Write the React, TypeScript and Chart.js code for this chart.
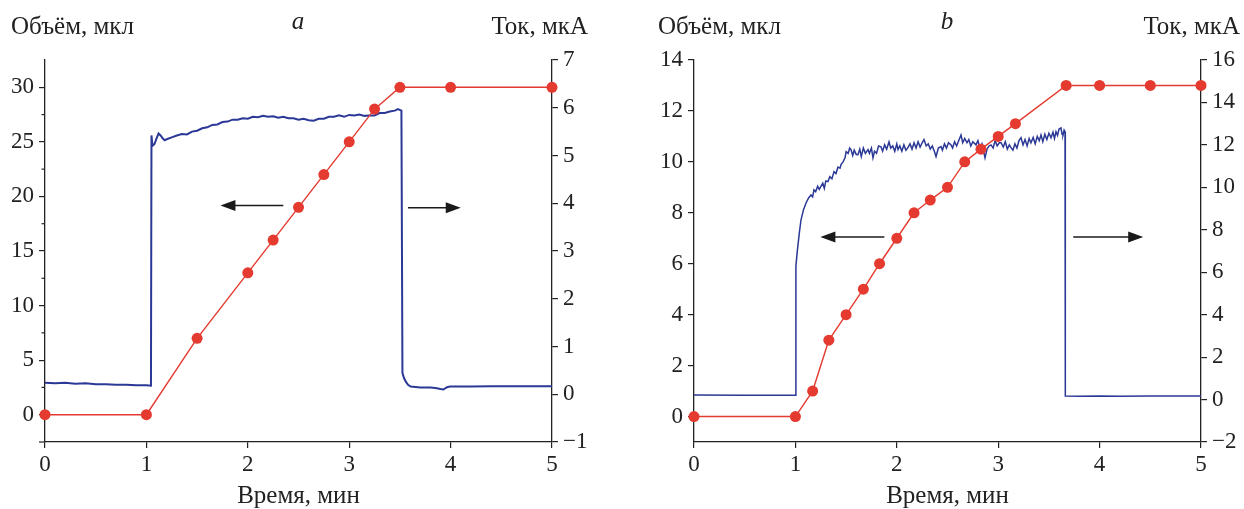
import React, { useEffect, useRef } from "react";
import { Chart, registerables } from "chart.js";
Chart.register(...registerables);

// ---------- data ----------
const timeTicks = [0, 1, 2, 3, 4, 5];

// panel a
const aVolT = [0, 1, 1.5, 2, 2.25, 2.5, 2.75, 3, 3.25, 3.5, 4, 5];
const aVolV = [0, 0, 7, 13, 16, 19, 22, 25, 28, 30, 30, 30];
const aCurT = [
  0, 0.1, 0.2, 0.3, 0.4, 0.5, 0.6, 0.7, 0.8, 0.9, 1.0, 1.045,
  1.05, 1.06, 1.08, 1.1, 1.12, 1.14, 1.16, 1.18, 1.2, 1.25, 1.3, 1.35, 1.4, 1.45,
  1.5, 1.55, 1.6, 1.65, 1.7, 1.75, 1.8, 1.85, 1.9, 1.95, 2.0, 2.05, 2.1, 2.15,
  2.2, 2.25, 2.3, 2.35, 2.4, 2.45, 2.5, 2.55, 2.6, 2.65, 2.7, 2.75, 2.8, 2.85,
  2.9, 2.95, 3.0, 3.05, 3.1, 3.15, 3.2, 3.25, 3.3, 3.35, 3.4, 3.45, 3.48, 3.515,
  3.525, 3.54, 3.557, 3.58, 3.607, 3.7, 3.8, 3.85, 3.9, 3.93, 3.95, 3.97, 4.0, 4.2, 4.4, 4.6, 4.8, 5.0,
];
const aCurV = [
  0.24, 0.23, 0.24, 0.22, 0.23, 0.21, 0.21, 0.2, 0.2, 0.19, 0.19, 0.18,
  5.42, 5.2, 5.24, 5.36, 5.46, 5.42, 5.36, 5.32, 5.34, 5.38, 5.42, 5.45, 5.44, 5.5,
  5.52, 5.57, 5.59, 5.64, 5.65, 5.7, 5.71, 5.75, 5.75, 5.78, 5.77, 5.81, 5.8, 5.83,
  5.81, 5.82, 5.79, 5.81, 5.78, 5.78, 5.75, 5.77, 5.74, 5.73, 5.77, 5.77, 5.81, 5.81,
  5.84, 5.81, 5.85, 5.84, 5.86, 5.83, 5.84, 5.84, 5.89, 5.89, 5.92, 5.94, 5.97, 5.94,
  0.45, 0.34, 0.27, 0.2, 0.16, 0.14, 0.14, 0.13, 0.11, 0.1, 0.13, 0.15, 0.16, 0.16, 0.17, 0.17, 0.17, 0.17,
];
const aLeftTicks = [0, 5, 10, 15, 20, 25, 30];
const aLeftMinor = [-2.5, 2.5, 7.5, 12.5, 17.5, 22.5, 27.5];
const aRightTicks = [-1, 0, 1, 2, 3, 4, 5, 6, 7];

// panel b
const bVolT = [0, 1, 1.17, 1.33, 1.5, 1.67, 1.83, 2, 2.17, 2.33, 2.5, 2.67, 2.83, 3, 3.17, 3.67, 4, 4.5, 5];
const bVolV = [0, 0, 1, 3, 4, 5, 6, 7, 8, 8.5, 9, 10, 10.5, 11, 11.5, 13, 13, 13, 13];
const bCurT = [
  0, 0.5, 0.99, 1.0, 1.005, 1.02, 1.04, 1.055, 1.08, 1.105, 1.13, 1.154, 1.17, 1.183,
  1.2, 1.22, 1.235, 1.252, 1.27, 1.285, 1.3, 1.321, 1.34, 1.36, 1.381, 1.4, 1.42, 1.44,
  1.45, 1.47, 1.49, 1.5, 1.52, 1.535, 1.548, 1.565, 1.58, 1.6, 1.617, 1.635, 1.65, 1.67,
  1.69, 1.716, 1.73, 1.75, 1.765, 1.78, 1.8, 1.82, 1.844, 1.86, 1.88, 1.9, 1.923, 1.94,
  1.96, 1.98, 2.0, 2.012, 2.03, 2.05, 2.07, 2.09, 2.11, 2.13, 2.15, 2.17, 2.19, 2.21,
  2.23, 2.25, 2.268, 2.29, 2.31, 2.33, 2.35, 2.37, 2.387, 2.41, 2.436, 2.45, 2.47, 2.49,
  2.51, 2.535, 2.55, 2.57, 2.59, 2.61, 2.633, 2.65, 2.67, 2.692, 2.71, 2.73, 2.75, 2.781,
  2.8, 2.82, 2.84, 2.87, 2.89, 2.91, 2.929, 2.95, 2.97, 2.99, 3.01, 3.028, 3.05, 3.07,
  3.09, 3.11, 3.126, 3.145, 3.165, 3.185, 3.205, 3.225, 3.245, 3.265, 3.285, 3.305, 3.323,
  3.345, 3.365, 3.385, 3.405, 3.422, 3.44, 3.46, 3.48, 3.5, 3.521, 3.54, 3.555, 3.57,
  3.585, 3.6, 3.619, 3.63, 3.639, 3.65, 3.659, 3.662, 3.8, 4.0, 4.2, 4.5, 5.0,
];
const bCurV = [
  0.22, 0.2, 0.2, 0.2, 6.3, 7.05, 7.9, 8.46, 8.95, 9.26, 9.5, 9.64, 9.55, 9.88,
  9.8, 10.05, 9.9, 10.05, 10.2, 9.95, 10.3, 10.27, 10.5, 10.4, 10.74, 10.65, 10.95, 10.9,
  11.07, 11.2, 11.4, 11.68, 11.6, 11.85, 11.78, 11.5, 11.75, 11.55, 11.54, 11.8, 11.45, 11.85,
  11.6, 11.78, 11.6, 11.85, 11.39, 11.7, 11.6, 11.95, 11.91, 11.7, 12.0, 11.8, 12.14, 11.85,
  11.95, 11.7, 12.05, 11.78, 11.95, 11.7, 12.0, 11.75, 11.87, 12.05, 11.8, 12.1, 11.85, 12.15,
  11.9, 12.1, 12.25, 11.95, 12.05, 11.8, 11.95, 11.7, 11.45, 11.85, 11.92, 11.75, 12.05, 11.85,
  12.1, 12.0, 11.85, 12.15, 11.95, 12.2, 12.47, 12.1, 12.3, 12.1, 12.25, 11.95, 12.15, 12.0,
  12.2, 11.85, 12.05, 11.39, 11.8, 11.95, 12.0, 11.85, 12.2, 11.95, 12.1, 12.1, 11.9, 12.15,
  11.8, 12.0, 11.87, 11.75, 12.05, 11.85, 12.2, 12.34, 12.0, 12.25, 11.95, 12.3, 12.1,
  12.35, 12.05, 12.4, 12.2, 12.47, 12.15, 12.5, 12.25, 12.55, 12.34, 12.6, 12.3, 12.62,
  12.45, 12.75, 12.8, 12.5, 12.47, 12.7, 12.62, 0.17, 0.15, 0.17, 0.15, 0.17, 0.17,
];
const bLeftTicks = [0, 2, 4, 6, 8, 10, 12, 14];
const bLeftMinor: number[] = [];
const bRightTicks = [-2, 0, 2, 4, 6, 8, 10, 12, 14, 16];

// arrows: [y on left axis, tail t, tip t]
const aArrows = [
  [19.18, 2.35, 1.73],
  [18.97, 3.58, 4.1],
];
const bArrows = [
  [7.05, 1.877, 1.246],
  [7.05, 3.74, 4.43],
];

const leftTitle = "Объём, мкл";
const rightTitle = "Ток, мкА";
const xTitle = "Время, мин";

// ---------- styles ----------
const FONT = "'Liberation Serif', 'DejaVu Serif', serif";
const FS = 23;
const TFS = 25;
const AXIS = "#222";
const RED = "#e43a2f";
const BLUE = "#2b3896";
const W = 622;
const H = 509;

type PanelCfg = {
  volT: number[]; volV: number[]; curT: number[]; curV: number[];
  leftMin: number; leftMax: number; leftTicks: number[]; leftMinor: number[];
  rightMin: number; rightMax: number; rightTicks: number[];
  letter: string; arrows: number[][];
  leftW: number; rightW: number; blueW: number;
  leftTitleX: number; letterX: number; rightTitleX: number;
};

const fmt = (v: number) => (v < 0 ? "\u2212" + Math.abs(v) : String(v));

function makeChart(canvas: HTMLCanvasElement, p: PanelCfg) {
  const zip = (t: number[], v: number[]) => t.map((x, i) => ({ x, y: v[i] }));
  const decor = {
    id: "decor",
    afterDraw(chart: any) {
      const ctx = chart.ctx as CanvasRenderingContext2D;
      const ca = chart.chartArea;
      const xs = chart.scales.x;
      const yl = chart.scales.yL;
      ctx.save();
      // minor ticks
      ctx.strokeStyle = AXIS;
      ctx.lineWidth = 1.2;
      for (const m of p.leftMinor) {
        const y = yl.getPixelForValue(m);
        ctx.beginPath();
        ctx.moveTo(ca.left - (m === p.leftMin ? 6 : 3.5), y);
        ctx.lineTo(ca.left, y);
        ctx.stroke();
      }
      // arrows
      ctx.strokeStyle = "#1a1a1a";
      ctx.fillStyle = "#1a1a1a";
      ctx.lineWidth = 1.5;
      for (const [yv, t0, t1] of p.arrows) {
        const y = yl.getPixelForValue(yv);
        const x0 = xs.getPixelForValue(t0);
        const x1 = xs.getPixelForValue(t1);
        const dir = x1 > x0 ? 1 : -1;
        ctx.beginPath();
        ctx.moveTo(x0, y);
        ctx.lineTo(x1 - dir * 10, y);
        ctx.stroke();
        ctx.beginPath();
        ctx.moveTo(x1, y);
        ctx.lineTo(x1 - dir * 15, y - 5.5);
        ctx.lineTo(x1 - dir * 15, y + 5.5);
        ctx.closePath();
        ctx.fill();
      }
      // titles
      ctx.fillStyle = "#222";
      ctx.textBaseline = "middle";
      ctx.font = `${TFS}px ${FONT}`;
      ctx.textAlign = "left";
      ctx.fillText(leftTitle, p.leftTitleX, 27);
      ctx.textAlign = "right";
      ctx.fillText(rightTitle, p.rightTitleX, 27);
      ctx.textAlign = "center";
      ctx.fillText(xTitle, (ca.left + ca.right) / 2, 496);
      ctx.font = `italic ${TFS}px ${FONT}`;
      ctx.fillText(p.letter, p.letterX, 22);
      ctx.restore();
    },
  };

  const tickFont = { family: FONT, size: FS };
  const axisCommon = {
    grid: { drawOnChartArea: false, drawTicks: true, tickLength: 6, color: AXIS, lineWidth: 1.2 },
    border: { display: true, color: AXIS, width: 1.3 },
  };

  return new Chart(canvas, {
    type: "line",
    data: {
      datasets: [
        {
          data: zip(p.volT, p.volV),
          yAxisID: "yL",
          borderColor: RED,
          backgroundColor: RED,
          borderWidth: 1.4,
          pointRadius: 5.5,
          pointBackgroundColor: RED,
          pointBorderWidth: 0,
          tension: 0,
          clip: false,
        },
        {
          data: zip(p.curT, p.curV),
          yAxisID: "yR",
          borderColor: BLUE,
          borderWidth: p.blueW,
          pointRadius: 0,
          tension: 0,
        },
      ],
    },
    options: {
      animation: false,
      responsive: false,
      events: [],
      layout: { padding: { top: 60, left: 0, right: 0, bottom: 0 } },
      plugins: { legend: { display: false }, tooltip: { enabled: false } },
      scales: {
        x: {
          type: "linear",
          position: "bottom",
          min: 0,
          max: 5,
          ...axisCommon,
          afterBuildTicks: (s: any) => { s.ticks = timeTicks.map((v) => ({ value: v })); },
          afterFit: (s: any) => { s.height = 67; },
          ticks: { font: tickFont, color: "#222", padding: 3, maxRotation: 0, autoSkip: false, callback: (v: any) => fmt(Number(v)) },
        },
        yL: {
          type: "linear",
          position: "left",
          min: p.leftMin,
          max: p.leftMax,
          ...axisCommon,
          afterBuildTicks: (s: any) => { s.ticks = p.leftTicks.map((v) => ({ value: v })); },
          afterFit: (s: any) => { s.width = p.leftW; },
          ticks: { font: tickFont, color: "#222", padding: 5, autoSkip: false, callback: (v: any) => fmt(Number(v)) },
        },
        yR: {
          type: "linear",
          position: "right",
          min: p.rightMin,
          max: p.rightMax,
          ...axisCommon,
          afterBuildTicks: (s: any) => { s.ticks = p.rightTicks.map((v) => ({ value: v })); },
          afterFit: (s: any) => { s.width = p.rightW; },
          ticks: { font: tickFont, color: "#222", padding: 5, autoSkip: false, callback: (v: any) => fmt(Number(v)) },
        },
      },
    } as any,
    plugins: [decor],
  });
}

const panelA: PanelCfg = {
  volT: aVolT, volV: aVolV, curT: aCurT, curV: aCurV,
  leftMin: -2.5, leftMax: 32.5, leftTicks: aLeftTicks, leftMinor: aLeftMinor,
  rightMin: -1, rightMax: 7, rightTicks: aRightTicks,
  letter: "a", arrows: aArrows,
  leftW: 45, rightW: 70, blueW: 2,
  leftTitleX: 11, letterX: 298, rightTitleX: 588,
};
const panelB: PanelCfg = {
  volT: bVolT, volV: bVolV, curT: bCurT, curV: bCurV,
  leftMin: -1, leftMax: 14, leftTicks: bLeftTicks, leftMinor: bLeftMinor,
  rightMin: -2, rightMax: 16, rightTicks: bRightTicks,
  letter: "b", arrows: bArrows,
  leftW: 72, rightW: 43, blueW: 1.5,
  leftTitleX: 36, letterX: 325, rightTitleX: 618,
};

export default function App() {
  const ra = useRef<HTMLCanvasElement>(null);
  const rb = useRef<HTMLCanvasElement>(null);
  useEffect(() => {
    const ca = makeChart(ra.current!, panelA);
    const cb = makeChart(rb.current!, panelB);
    return () => { ca.destroy(); cb.destroy(); };
  }, []);
  return (
    <div style={{ position: "fixed", left: 0, top: 0, width: 1244, height: H, background: "#fff" }}>
      <canvas ref={ra} width={W} height={H} style={{ position: "absolute", left: 0, top: 0, width: W, height: H }} />
      <canvas ref={rb} width={W} height={H} style={{ position: "absolute", left: W, top: 0, width: W, height: H }} />
    </div>
  );
}
